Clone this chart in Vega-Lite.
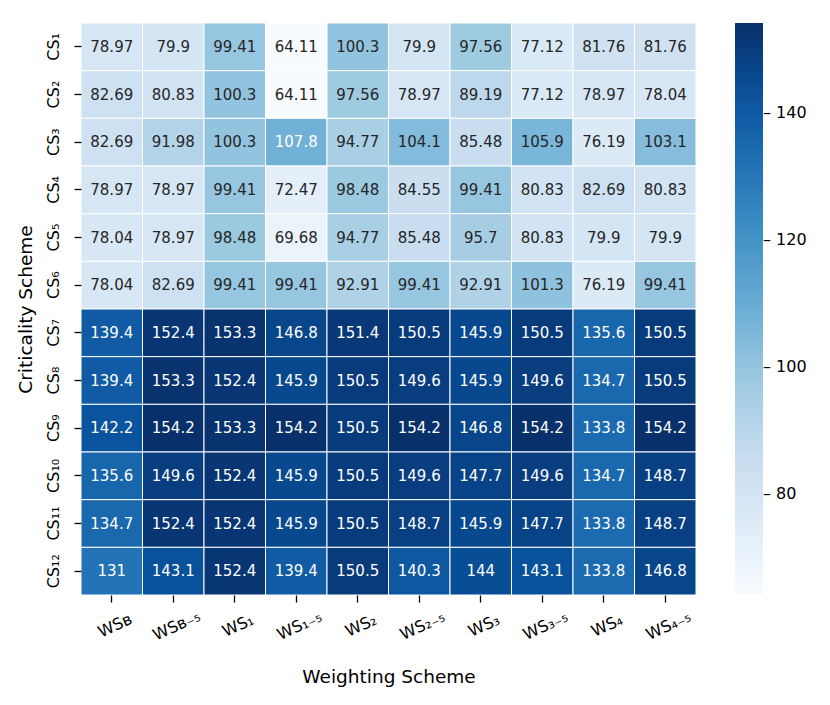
{
  "$schema": "https://vega.github.io/schema/vega-lite/v6.json",
  "width": 615,
  "height": 572,
  "autosize": "none",
  "padding": {"left": 81, "top": 23, "right": 134, "bottom": 110},
  "background": "white",
  "config": {
    "font": "DejaVu Sans",
    "view": {"stroke": null},
    "axis": {
      "domain": false,
      "tickColor": "black",
      "tickSize": 7,
      "tickWidth": 1.3,
      "labelColor": "black",
      "titleColor": "black",
      "labelFontSize": 16,
      "titleFontSize": 18.5,
      "titleFontWeight": "normal"
    },
    "legend": {"padding": 0}
  },
  "data": {
    "values": [
      {"c": "CS₁", "w": "WSʙ", "v": 78.97}, {"c": "CS₁", "w": "WSʙ₋₅", "v": 79.9}, {"c": "CS₁", "w": "WS₁", "v": 99.41}, {"c": "CS₁", "w": "WS₁₋₅", "v": 64.11}, {"c": "CS₁", "w": "WS₂", "v": 100.3}, {"c": "CS₁", "w": "WS₂₋₅", "v": 79.9}, {"c": "CS₁", "w": "WS₃", "v": 97.56}, {"c": "CS₁", "w": "WS₃₋₅", "v": 77.12}, {"c": "CS₁", "w": "WS₄", "v": 81.76}, {"c": "CS₁", "w": "WS₄₋₅", "v": 81.76},
      {"c": "CS₂", "w": "WSʙ", "v": 82.69}, {"c": "CS₂", "w": "WSʙ₋₅", "v": 80.83}, {"c": "CS₂", "w": "WS₁", "v": 100.3}, {"c": "CS₂", "w": "WS₁₋₅", "v": 64.11}, {"c": "CS₂", "w": "WS₂", "v": 97.56}, {"c": "CS₂", "w": "WS₂₋₅", "v": 78.97}, {"c": "CS₂", "w": "WS₃", "v": 89.19}, {"c": "CS₂", "w": "WS₃₋₅", "v": 77.12}, {"c": "CS₂", "w": "WS₄", "v": 78.97}, {"c": "CS₂", "w": "WS₄₋₅", "v": 78.04},
      {"c": "CS₃", "w": "WSʙ", "v": 82.69}, {"c": "CS₃", "w": "WSʙ₋₅", "v": 91.98}, {"c": "CS₃", "w": "WS₁", "v": 100.3}, {"c": "CS₃", "w": "WS₁₋₅", "v": 107.8}, {"c": "CS₃", "w": "WS₂", "v": 94.77}, {"c": "CS₃", "w": "WS₂₋₅", "v": 104.1}, {"c": "CS₃", "w": "WS₃", "v": 85.48}, {"c": "CS₃", "w": "WS₃₋₅", "v": 105.9}, {"c": "CS₃", "w": "WS₄", "v": 76.19}, {"c": "CS₃", "w": "WS₄₋₅", "v": 103.1},
      {"c": "CS₄", "w": "WSʙ", "v": 78.97}, {"c": "CS₄", "w": "WSʙ₋₅", "v": 78.97}, {"c": "CS₄", "w": "WS₁", "v": 99.41}, {"c": "CS₄", "w": "WS₁₋₅", "v": 72.47}, {"c": "CS₄", "w": "WS₂", "v": 98.48}, {"c": "CS₄", "w": "WS₂₋₅", "v": 84.55}, {"c": "CS₄", "w": "WS₃", "v": 99.41}, {"c": "CS₄", "w": "WS₃₋₅", "v": 80.83}, {"c": "CS₄", "w": "WS₄", "v": 82.69}, {"c": "CS₄", "w": "WS₄₋₅", "v": 80.83},
      {"c": "CS₅", "w": "WSʙ", "v": 78.04}, {"c": "CS₅", "w": "WSʙ₋₅", "v": 78.97}, {"c": "CS₅", "w": "WS₁", "v": 98.48}, {"c": "CS₅", "w": "WS₁₋₅", "v": 69.68}, {"c": "CS₅", "w": "WS₂", "v": 94.77}, {"c": "CS₅", "w": "WS₂₋₅", "v": 85.48}, {"c": "CS₅", "w": "WS₃", "v": 95.7}, {"c": "CS₅", "w": "WS₃₋₅", "v": 80.83}, {"c": "CS₅", "w": "WS₄", "v": 79.9}, {"c": "CS₅", "w": "WS₄₋₅", "v": 79.9},
      {"c": "CS₆", "w": "WSʙ", "v": 78.04}, {"c": "CS₆", "w": "WSʙ₋₅", "v": 82.69}, {"c": "CS₆", "w": "WS₁", "v": 99.41}, {"c": "CS₆", "w": "WS₁₋₅", "v": 99.41}, {"c": "CS₆", "w": "WS₂", "v": 92.91}, {"c": "CS₆", "w": "WS₂₋₅", "v": 99.41}, {"c": "CS₆", "w": "WS₃", "v": 92.91}, {"c": "CS₆", "w": "WS₃₋₅", "v": 101.3}, {"c": "CS₆", "w": "WS₄", "v": 76.19}, {"c": "CS₆", "w": "WS₄₋₅", "v": 99.41},
      {"c": "CS₇", "w": "WSʙ", "v": 139.4}, {"c": "CS₇", "w": "WSʙ₋₅", "v": 152.4}, {"c": "CS₇", "w": "WS₁", "v": 153.3}, {"c": "CS₇", "w": "WS₁₋₅", "v": 146.8}, {"c": "CS₇", "w": "WS₂", "v": 151.4}, {"c": "CS₇", "w": "WS₂₋₅", "v": 150.5}, {"c": "CS₇", "w": "WS₃", "v": 145.9}, {"c": "CS₇", "w": "WS₃₋₅", "v": 150.5}, {"c": "CS₇", "w": "WS₄", "v": 135.6}, {"c": "CS₇", "w": "WS₄₋₅", "v": 150.5},
      {"c": "CS₈", "w": "WSʙ", "v": 139.4}, {"c": "CS₈", "w": "WSʙ₋₅", "v": 153.3}, {"c": "CS₈", "w": "WS₁", "v": 152.4}, {"c": "CS₈", "w": "WS₁₋₅", "v": 145.9}, {"c": "CS₈", "w": "WS₂", "v": 150.5}, {"c": "CS₈", "w": "WS₂₋₅", "v": 149.6}, {"c": "CS₈", "w": "WS₃", "v": 145.9}, {"c": "CS₈", "w": "WS₃₋₅", "v": 149.6}, {"c": "CS₈", "w": "WS₄", "v": 134.7}, {"c": "CS₈", "w": "WS₄₋₅", "v": 150.5},
      {"c": "CS₉", "w": "WSʙ", "v": 142.2}, {"c": "CS₉", "w": "WSʙ₋₅", "v": 154.2}, {"c": "CS₉", "w": "WS₁", "v": 153.3}, {"c": "CS₉", "w": "WS₁₋₅", "v": 154.2}, {"c": "CS₉", "w": "WS₂", "v": 150.5}, {"c": "CS₉", "w": "WS₂₋₅", "v": 154.2}, {"c": "CS₉", "w": "WS₃", "v": 146.8}, {"c": "CS₉", "w": "WS₃₋₅", "v": 154.2}, {"c": "CS₉", "w": "WS₄", "v": 133.8}, {"c": "CS₉", "w": "WS₄₋₅", "v": 154.2},
      {"c": "CS₁₀", "w": "WSʙ", "v": 135.6}, {"c": "CS₁₀", "w": "WSʙ₋₅", "v": 149.6}, {"c": "CS₁₀", "w": "WS₁", "v": 152.4}, {"c": "CS₁₀", "w": "WS₁₋₅", "v": 145.9}, {"c": "CS₁₀", "w": "WS₂", "v": 150.5}, {"c": "CS₁₀", "w": "WS₂₋₅", "v": 149.6}, {"c": "CS₁₀", "w": "WS₃", "v": 147.7}, {"c": "CS₁₀", "w": "WS₃₋₅", "v": 149.6}, {"c": "CS₁₀", "w": "WS₄", "v": 134.7}, {"c": "CS₁₀", "w": "WS₄₋₅", "v": 148.7},
      {"c": "CS₁₁", "w": "WSʙ", "v": 134.7}, {"c": "CS₁₁", "w": "WSʙ₋₅", "v": 152.4}, {"c": "CS₁₁", "w": "WS₁", "v": 152.4}, {"c": "CS₁₁", "w": "WS₁₋₅", "v": 145.9}, {"c": "CS₁₁", "w": "WS₂", "v": 150.5}, {"c": "CS₁₁", "w": "WS₂₋₅", "v": 148.7}, {"c": "CS₁₁", "w": "WS₃", "v": 145.9}, {"c": "CS₁₁", "w": "WS₃₋₅", "v": 147.7}, {"c": "CS₁₁", "w": "WS₄", "v": 133.8}, {"c": "CS₁₁", "w": "WS₄₋₅", "v": 148.7},
      {"c": "CS₁₂", "w": "WSʙ", "v": 131}, {"c": "CS₁₂", "w": "WSʙ₋₅", "v": 143.1}, {"c": "CS₁₂", "w": "WS₁", "v": 152.4}, {"c": "CS₁₂", "w": "WS₁₋₅", "v": 139.4}, {"c": "CS₁₂", "w": "WS₂", "v": 150.5}, {"c": "CS₁₂", "w": "WS₂₋₅", "v": 140.3}, {"c": "CS₁₂", "w": "WS₃", "v": 144}, {"c": "CS₁₂", "w": "WS₃₋₅", "v": 143.1}, {"c": "CS₁₂", "w": "WS₄", "v": 133.8}, {"c": "CS₁₂", "w": "WS₄₋₅", "v": 146.8}
    ]
  },
  "encoding": {
    "x": {
      "field": "w", "type": "ordinal", "sort": null,
      "scale": {"paddingInner": 0, "paddingOuter": 0},
      "axis": {"title": "Weighting Scheme", "labelAngle": -25, "labelAlign": "center", "labelBaseline": "top", "labelPadding": 16, "titlePadding": 24}
    },
    "y": {
      "field": "c", "type": "ordinal", "sort": null,
      "scale": {"paddingInner": 0, "paddingOuter": 0},
      "axis": {"title": "Criticality Scheme", "labelAngle": 270, "labelAlign": "center", "labelBaseline": "bottom", "labelPadding": 13, "titlePadding": 10}
    }
  },
  "layer": [
    {
      "mark": {"type": "rect", "stroke": "white", "strokeWidth": 1},
      "encoding": {
        "color": {
          "field": "v", "type": "quantitative",
          "scale": {
            "domain": [64.11, 75.371, 86.633, 97.894, 109.155, 120.416, 131.678, 142.939, 154.2],
            "range": ["#f7fbff", "#deebf7", "#c6dbef", "#9ecae1", "#6baed6", "#4292c6", "#2171b5", "#08519c", "#08306b"],
            "interpolate": "rgb"
          },
          "legend": {
            "title": null,
            "orient": "right",
            "offset": 39,
            "gradientLength": 572,
            "gradientThickness": 28,
            "gradientStrokeWidth": 0,
            "values": [80, 100, 120, 140],
            "labelFontSize": 16,
            "labelColor": "black",
            "labelOffset": 0,
            "labelExpr": "'–  ' + datum.label"
          }
        }
      }
    },
    {
      "mark": {"type": "text", "fontSize": 15},
      "encoding": {
        "text": {"field": "v", "type": "quantitative"},
        "color": {"condition": {"test": "datum.v > 106.5", "value": "white"}, "value": "#262626"}
      }
    }
  ]
}
